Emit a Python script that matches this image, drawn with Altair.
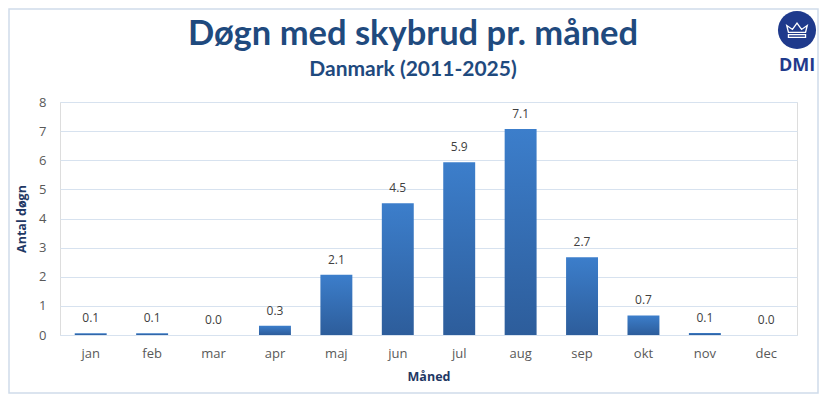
import altair as alt
import pandas as pd

months = ["jan", "feb", "mar", "apr", "maj", "jun", "jul", "aug", "sep", "okt", "nov", "dec"]
values = [0.06, 0.06, 0.0, 0.32, 2.07, 4.52, 5.93, 7.07, 2.67, 0.67, 0.07, 0.0]
y_ticks = [0, 1, 2, 3, 4, 5, 6, 7, 8]
title_text = "Døgn med skybrud pr. måned"
subtitle_text = "Danmark (2011-2025)"

df = pd.DataFrame({"month": months, "value": values})

NAVY = "#1f4a7e"
AXNAVY = "#1f3864"
LABEL = "#595959"
GRID = "#d7e2ef"
FONT = "Lato"

x_enc = alt.X("month:N", sort=months, title="Måned",
              scale=alt.Scale(paddingInner=0.48, paddingOuter=0.24),
              axis=alt.Axis(labelAngle=0, labelFontSize=13, labelColor=LABEL, labelPadding=12,
                            ticks=False, domainColor=GRID, titleFontSize=12.5, titleColor=AXNAVY,
                            titleFontWeight="bold", titlePadding=10, labelFont="Open Sans",
                            titleFont="Open Sans"))
y_enc = alt.Y("value:Q", title="Antal døgn",
              scale=alt.Scale(domain=[0, 8], nice=False),
              axis=alt.Axis(values=y_ticks, labelFontSize=13, labelColor=LABEL,
                            labelPadding=14, ticks=False, domain=False, gridColor=GRID,
                            labelOverlap=False,
                            titleFontSize=12.5, titleColor=AXNAVY, titleFontWeight="bold",
                            titlePadding=10, labelFont="Open Sans", titleFont="Open Sans"))

bars = alt.Chart(df).mark_bar(
    color=alt.Gradient(gradient="linear",
                       stops=[alt.GradientStop(color="#3c7ecb", offset=0),
                              alt.GradientStop(color="#2d5d9b", offset=1)],
                       x1=0, x2=0, y1=0, y2=1)
).encode(x=x_enc, y=y_enc)

labels = alt.Chart(df).mark_text(
    baseline="bottom", dy=-8, fontSize=12, color="#404040", font="Open Sans"
).encode(x=x_enc, y=y_enc, text=alt.Text("value:Q", format=".1f"))

logo_df = pd.DataFrame({"name": ["DMI"]})
logo_circle = alt.Chart(logo_df).mark_point(
    filled=True, color="#1f3a8c", size=1450, opacity=1, shape="circle"
).encode(x=alt.value(737), y=alt.value(-72))
crown_path = ("M-0.75,0.2 L-0.9,-0.4 L-0.4,-0.05 L0,-0.6 L0.4,-0.05 L0.9,-0.4 L0.75,0.2 Z "
              "M-0.75,0.4 L0.75,0.4 L0.75,0.65 L-0.75,0.65 Z")
logo_crown = alt.Chart(logo_df).mark_point(
    shape=crown_path, filled=False, stroke="white", strokeWidth=1.3, size=520, opacity=1
).encode(x=alt.value(737), y=alt.value(-72))
logo_text = alt.Chart(logo_df).mark_text(
    fontSize=18, fontWeight="bold", color="#1f3a8c", font="Open Sans", baseline="middle"
).encode(x=alt.value(737), y=alt.value(-36), text="name:N")

title_df = pd.DataFrame({"t": [title_text]})
sub_df = pd.DataFrame({"t": [subtitle_text]})
title_mark = alt.Chart(title_df).mark_text(
    font=FONT, fontSize=34.5, fontWeight="bold", color=NAVY, baseline="alphabetic", align="center"
).encode(x=alt.value(353), y=alt.value(-57), text="t:N")
sub_mark = alt.Chart(sub_df).mark_text(
    font=FONT, fontSize=21, fontWeight="bold", color=NAVY, baseline="alphabetic", align="center"
).encode(x=alt.value(353), y=alt.value(-26), text="t:N")

border = alt.Chart(logo_df).mark_rect(
    fill=None, stroke="#d0dcea", strokeWidth=1.5
).encode(x=alt.value(-51), x2=alt.value(758), y=alt.value(-93), y2=alt.value(291))

chart = alt.layer(border, bars, labels, logo_circle, logo_crown, logo_text,
                  title_mark, sub_mark).properties(
    width=737, height=233,
    autosize=alt.AutoSizeParams(type="none"),
    padding={"left": 52, "top": 94, "right": 22, "bottom": 59},
).configure_view(stroke=None).configure(background="white")

chart.save("out.html", embed_options={"renderer": "svg", "actions": False})
